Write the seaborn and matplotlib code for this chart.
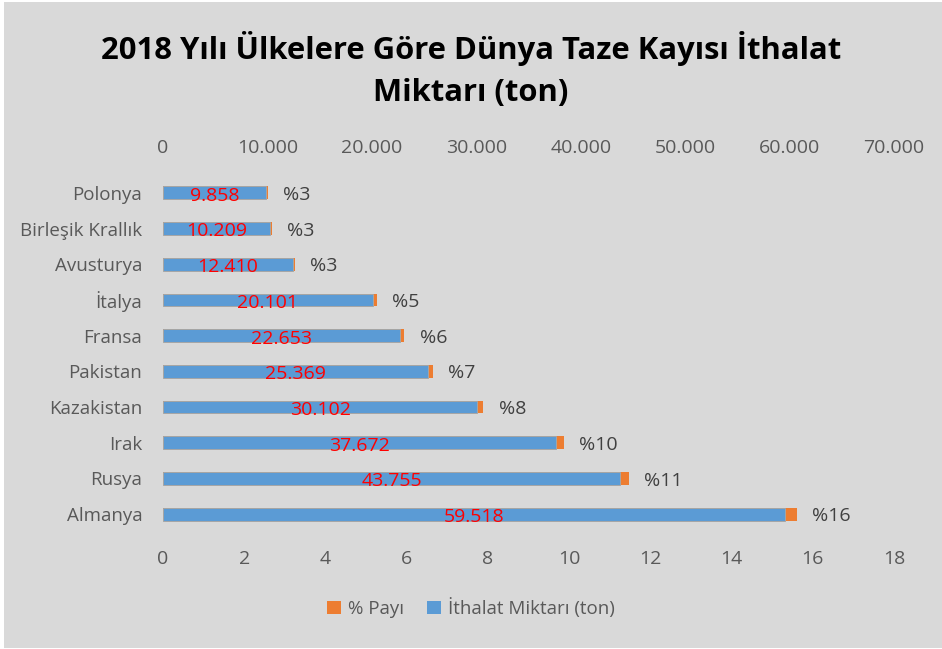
import matplotlib
matplotlib.use("Agg")
import matplotlib.pyplot as plt
import matplotlib.ticker as mticker
from matplotlib.patches import Patch, Rectangle
import pandas as pd
import seaborn as sns

# Data (top to bottom)
countries = ["Polonya", "Birleşik Krallık", "Avusturya", "İtalya", "Fransa",
             "Pakistan", "Kazakistan", "Irak", "Rusya", "Almanya"]
import_tons = [9858, 10209, 12410, 20101, 22653, 25369, 30102, 37672, 43755, 59518]
share_pct = [2.58, 2.68, 3.25, 5.27, 5.94, 6.65, 7.89, 9.87, 11.47, 15.6]

df = pd.DataFrame({"country": countries, "tons": import_tons, "pct": share_pct})

blue = "#5B9BD5"
orange = "#ED7D31"
bg = "#D9D9D9"
grey_txt = "#595959"

sns.set_theme(style="white")
plt.rcParams['font.family'] = ['Open Sans', 'DejaVu Sans']

fig = plt.figure(figsize=(9.42, 6.49), dpi=100)
fig.patch.set_facecolor("white")
fig.patches.append(Rectangle((4 / 942, 1 / 649), 1 - 4 / 942, 1 - 3 / 649,
                             transform=fig.transFigure, facecolor=bg,
                             edgecolor="none", zorder=-10))

ax = fig.add_axes([163 / 942, 117 / 649, 731 / 942, 357 / 649])
ax.set_facecolor("none")

# percent share on the bottom axis (drawn behind)
sns.barplot(data=df, y="country", x="pct", orient="h", color=orange,
            saturation=1, width=0.36, ax=ax, order=countries,
            edgecolor="none", linewidth=0)
ax.set_xlim(0, 18)
ax.set_xticks(range(0, 19, 2))

# import amount on the top axis (drawn in front)
ax2 = ax.twiny()
ax2.set_facecolor("none")
sns.barplot(data=df, y="country", x="tons", orient="h", color=blue,
            saturation=1, width=0.36, ax=ax2, order=countries,
            edgecolor="#A6A6A6", linewidth=0.7)
ax2.set_xlim(0, 70000)
ax2.set_xticks(range(0, 70001, 10000))
ax2.xaxis.set_major_formatter(mticker.FuncFormatter(
    lambda v, p: f"{v:,.0f}".replace(",", ".")))

for a in (ax, ax2):
    for s in a.spines.values():
        s.set_visible(False)
    a.set_xlabel("")
    a.set_ylabel("")
    a.tick_params(length=0, labelsize=14, colors=grey_txt, pad=13)

ax.tick_params(axis="y", pad=15, labelsize=13.5)
ax2.xaxis.set_ticks_position("top")

# value labels in the blue bars
for i, t in enumerate(import_tons):
    ax2.text(t / 2, i + 0.08, f"{t:,.0f}".replace(",", "."), color="red",
             ha="center", va="center", fontsize=14)

# percent labels after the bars
for i, p in enumerate(share_pct):
    ax.annotate(f"%{p:.0f}", xy=(p, i), xytext=(11, -1.5), textcoords="offset points",
                ha="left", va="center", fontsize=14, color="#404040")

fig.text(0.5, 1 - 48 / 649, "2018 Yılı Ülkelere Göre Dünya Taze Kayısı İthalat",
         ha="center", va="center", fontsize=22.3, fontweight="bold", color="black")
fig.text(0.5, 1 - 93 / 649, "Miktarı (ton)",
         ha="center", va="center", fontsize=22.3, fontweight="bold", color="black")

handles = [Patch(facecolor=orange, edgecolor="none", label="% Payı"),
           Patch(facecolor=blue, edgecolor="none", label="İthalat Miktarı (ton)")]
leg = fig.legend(handles=handles, loc="center", bbox_to_anchor=(0.5, 1 - 608 / 649),
                 ncol=2, frameon=False, handlelength=0.75, handleheight=0.75,
                 handletextpad=0.4, columnspacing=1.2, fontsize=13.5)
for txt in leg.get_texts():
    txt.set_color(grey_txt)

fig.savefig("out.png", dpi=100, facecolor=fig.get_facecolor())
